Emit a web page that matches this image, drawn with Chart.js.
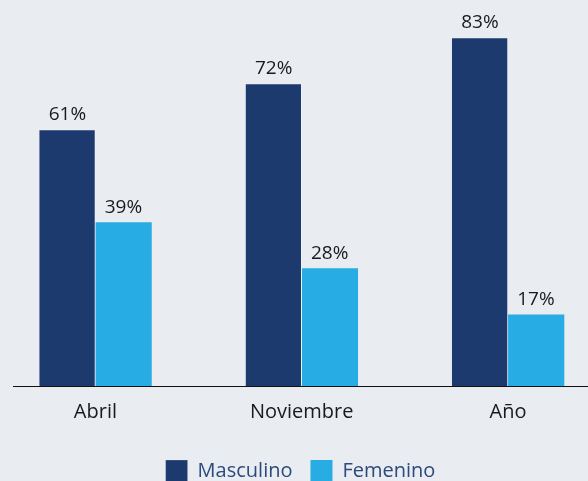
<!DOCTYPE html>
<html>
<head>
<meta charset="utf-8">
<script src="https://cdn.jsdelivr.net/npm/chart.js@4/dist/chart.umd.min.js"></script>
<style>
  html, body { margin: 0; padding: 0; background: #e9ecf1; overflow: hidden; }
  #wrap { width: 588px; height: 481px; overflow: hidden; }
  canvas { display: block; }
</style>
</head>
<body>
<div id="wrap"><canvas id="c" width="588" height="492"></canvas></div>
<script>
const categories = ['Abril', 'Noviembre', 'Año'];
const masculino = [61, 72, 83];
const femenino = [39, 28, 17];
const seriesNames = ['Masculino', 'Femenino'];

const FONT = "'Open Sans', 'DejaVu Sans', sans-serif";

const valueLabels = {
  id: 'valueLabels',
  afterDatasetsDraw(chart) {
    const ctx = chart.ctx;
    ctx.save();
    ctx.font = "19px " + FONT;
    ctx.fillStyle = '#1a1a1a';
    ctx.textAlign = 'center';
    ctx.textBaseline = 'alphabetic';
    chart.data.datasets.forEach((ds, di) => {
      const meta = chart.getDatasetMeta(di);
      meta.data.forEach((el, i) => {
        ctx.fillText(ds.data[i].y + '%', el.x, el.y - 10);
      });
    });
    ctx.restore();
  }
};

const toPoints = arr => arr.map((v, i) => ({ x: i, y: v }));

new Chart(document.getElementById('c'), {
  type: 'bar',
  data: {
    datasets: [
      {
        label: seriesNames[0],
        data: toPoints(masculino),
        backgroundColor: '#1d3a6e',
        borderColor: '#f2f4f7',
        borderWidth: { left: 0, right: 1, top: 0, bottom: 0 },
        borderSkipped: false,
        barThickness: 56
      },
      {
        label: seriesNames[1],
        data: toPoints(femenino),
        backgroundColor: '#27ace3',
        borderWidth: 0,
        barThickness: 56
      }
    ]
  },
  options: {
    responsive: false,
    animation: false,
    layout: { padding: { left: 13, right: 0, top: 0, bottom: 0 } },
    scales: {
      x: {
        type: 'linear',
        offset: false,
        min: -0.3995,
        max: 2.388,
        grid: { display: false, drawTicks: false, offset: false },
        border: { display: true, color: '#111111', width: 1 },
        afterFit(scale) { scale.height = 56; },
        ticks: {
          stepSize: 1,
          includeBounds: false,
          autoSkip: false,
          maxRotation: 0,
          padding: 14,
          color: '#1a1a1a',
          font: { family: FONT, size: 20 },
          callback: v => categories[v] !== undefined && Number.isInteger(v) ? categories[v] : ''
        }
      },
      y: {
        display: false,
        min: 0,
        max: 92.1
      }
    },
    plugins: {
      legend: {
        position: 'bottom',
        labels: {
          boxWidth: 22,
          boxHeight: 22,
          padding: 18,
          color: '#2c4a7c',
          font: { family: FONT, size: 20 }
        }
      },
      tooltip: { enabled: false }
    }
  },
  plugins: [valueLabels]
});
</script>
</body>
</html>
